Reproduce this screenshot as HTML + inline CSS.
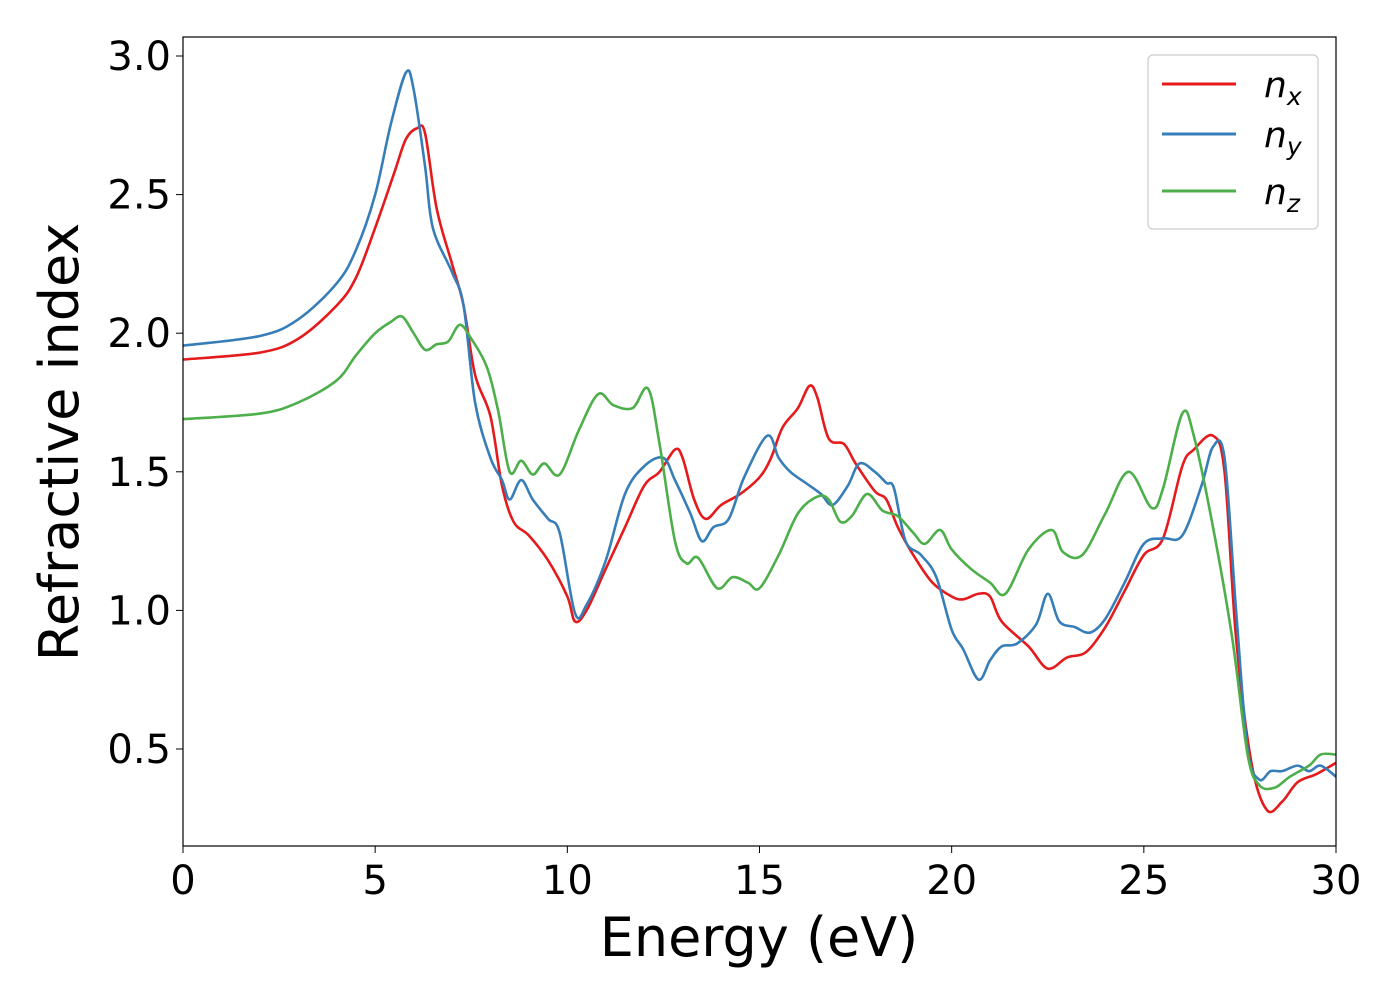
<!DOCTYPE html>
<html><head><meta charset="utf-8"><style>
body{margin:0;background:#fff}
svg{display:block;font-family:"DejaVu Sans","Liberation Sans",sans-serif}
</style></head><body>
<svg id="chart" width="1400" height="1000">
<rect x="0" y="0" width="1400" height="1000" fill="#fff"/>
<g id="series"></g>
<rect x="183" y="37" width="1153" height="809" fill="none" stroke="#000" stroke-width="1.2"/>
<g id="ticks"></g>
<text x="759" y="956" font-size="54" text-anchor="middle">Energy (eV)</text>
<text transform="translate(78,442) rotate(-90)" font-size="54" text-anchor="middle">Refractive index</text>
<g>
<rect x="1148" y="55" width="170" height="174" rx="5" fill="#fff" stroke="#ccc" stroke-width="1.2"/>
<g><line x1="1162" y1="84" x2="1236" y2="84" stroke="#e41a1c" stroke-width="3"/><text x="1264" y="97" font-size="36" font-style="italic">n<tspan font-size="25" dy="8">x</tspan></text></g>
<g><line x1="1162" y1="134" x2="1236" y2="134" stroke="#377eb8" stroke-width="3"/><text x="1264" y="147" font-size="36" font-style="italic">n<tspan font-size="25" dy="8">y</tspan></text></g>
<g><line x1="1162" y1="191" x2="1236" y2="191" stroke="#4daf4a" stroke-width="3"/><text x="1264" y="204" font-size="36" font-style="italic">n<tspan font-size="25" dy="8">z</tspan></text></g>
</g>
</svg>
<script>
const nxE=[0,2,3,4,4.5,5,5.5,5.8,6.1,6.3,6.6,7,7.3,7.6,8,8.3,8.6,9,9.5,10,10.2,10.5,11,11.5,12,12.4,12.8,13,13.3,13.6,14,14.5,15,15.3,15.6,16,16.3,16.5,16.8,17.2,17.5,18,18.3,18.6,19,19.5,20,20.3,20.7,21,21.3,22,22.5,23,23.5,24,24.5,25,25.5,26,26.3,26.8,27.1,27.4,27.8,28.2,28.6,29,29.5,30];
const nxV=[1.905,1.93,1.98,2.1,2.2,2.38,2.58,2.7,2.74,2.72,2.45,2.25,2.1,1.85,1.7,1.45,1.32,1.27,1.18,1.05,0.96,1.0,1.15,1.3,1.45,1.5,1.58,1.55,1.4,1.33,1.38,1.42,1.48,1.55,1.66,1.73,1.81,1.77,1.62,1.6,1.53,1.43,1.4,1.3,1.2,1.1,1.05,1.04,1.06,1.05,0.96,0.87,0.79,0.83,0.85,0.94,1.07,1.2,1.26,1.52,1.58,1.63,1.5,0.9,0.45,0.28,0.31,0.38,0.41,0.45];
const nyE=[0,2,3,4,4.5,5,5.4,5.8,6.0,6.3,6.5,7,7.3,7.6,8,8.3,8.5,8.8,9.1,9.5,9.8,10.2,10.5,11,11.5,12,12.5,12.8,13.2,13.5,13.8,14.2,14.6,15.2,15.5,15.8,16.2,16.6,16.9,17.3,17.6,18,18.3,18.5,18.8,19.2,19.6,20,20.3,20.7,21,21.3,21.7,22.2,22.5,22.8,23.2,23.6,24,24.5,25,25.5,26,26.5,26.8,27.1,27.4,27.7,28,28.3,28.6,29,29.3,29.6,30];
const nyV=[1.955,1.99,2.05,2.18,2.3,2.5,2.75,2.94,2.88,2.6,2.38,2.22,2.1,1.75,1.55,1.47,1.4,1.47,1.4,1.33,1.28,0.99,1.02,1.18,1.42,1.52,1.55,1.47,1.35,1.25,1.3,1.33,1.48,1.63,1.55,1.5,1.46,1.42,1.38,1.45,1.53,1.5,1.46,1.44,1.25,1.2,1.12,0.93,0.86,0.75,0.82,0.87,0.88,0.95,1.06,0.96,0.94,0.92,0.97,1.1,1.24,1.26,1.27,1.45,1.59,1.55,1.0,0.5,0.39,0.42,0.42,0.44,0.42,0.44,0.4];
const nzE=[0,2,3,4,4.5,5,5.4,5.7,6.0,6.3,6.6,6.9,7.2,7.5,7.9,8.2,8.5,8.8,9.1,9.4,9.8,10.3,10.8,11.2,11.7,12.1,12.4,12.8,13.1,13.4,13.9,14.3,14.7,15.0,15.5,16,16.5,16.8,17.1,17.4,17.8,18.2,18.6,19,19.3,19.7,20,20.5,21,21.4,22,22.6,22.9,23.4,24,24.6,25.2,25.5,26,26.3,26.8,27.3,27.7,28,28.4,28.8,29.3,29.6,30];
const nzV=[1.69,1.71,1.75,1.83,1.92,2.0,2.04,2.06,2.0,1.94,1.96,1.97,2.03,1.98,1.88,1.72,1.5,1.54,1.49,1.53,1.49,1.65,1.78,1.74,1.73,1.8,1.6,1.25,1.17,1.19,1.08,1.12,1.1,1.08,1.2,1.35,1.41,1.4,1.32,1.34,1.42,1.36,1.34,1.28,1.24,1.29,1.22,1.15,1.1,1.06,1.22,1.29,1.21,1.2,1.35,1.5,1.37,1.44,1.71,1.63,1.3,0.9,0.48,0.37,0.36,0.4,0.44,0.48,0.48];
const xTicks=[0,5,10,15,20,25,30];
const yTicks=[0.5,1.0,1.5,2.0,2.5,3.0];
const yLabels=["0.5","1.0","1.5","2.0","2.5","3.0"];

const X0=183,X1=1336,Y0=846,Y1=37,xMin=0,xMax=30,yMin=0.15,yMax=3.0+19/277.2;
const xs=v=>X0+(v-xMin)/(xMax-xMin)*(X1-X0);
const ys=v=>Y0-(v-yMin)/(yMax-yMin)*(Y0-Y1);
const NS='http://www.w3.org/2000/svg';
function smooth(E,V){
  const p=E.map((e,i)=>[xs(e),ys(V[i])]);
  let d='M'+p[0][0]+','+p[0][1];
  for(let i=0;i<p.length-1;i++){
    const a=p[Math.max(0,i-1)],b=p[i],c=p[i+1],e=p[Math.min(p.length-1,i+2)];
    const c1=[b[0]+(c[0]-a[0])/6,b[1]+(c[1]-a[1])/6],c2=[c[0]-(e[0]-b[0])/6,c[1]-(e[1]-b[1])/6];
    d+=`C${c1[0]},${c1[1]} ${c2[0]},${c2[1]} ${c[0]},${c[1]}`;
  }
  return d;
}
const g=document.getElementById('series');
[[nxE,nxV,'#e41a1c','series-nx'],[nyE,nyV,'#377eb8','series-ny'],[nzE,nzV,'#4daf4a','series-nz']].forEach(s=>{
  const p=document.createElementNS(NS,'path');
  p.setAttribute('d',smooth(s[0],s[1]));
  p.setAttribute('fill','none');p.setAttribute('stroke',s[2]);p.setAttribute('stroke-width','2.6');
  
  
  g.appendChild(p);
});
const t=document.getElementById('ticks');
xTicks.forEach(v=>{
  const l=document.createElementNS(NS,'line');
  l.setAttribute('x1',xs(v));l.setAttribute('x2',xs(v));l.setAttribute('y1',Y0);l.setAttribute('y2',Y0+7);l.setAttribute('stroke','#000');
  
  
  t.appendChild(l);
  const tx=document.createElementNS(NS,'text');
  tx.setAttribute('x',xs(v));tx.setAttribute('y',Y0+48);tx.setAttribute('font-size','40');tx.setAttribute('text-anchor','middle');
  tx.textContent=v;
  
  
  t.appendChild(tx);
});
yTicks.forEach((v,i)=>{
  const l=document.createElementNS(NS,'line');
  l.setAttribute('x1',X0-7);l.setAttribute('x2',X0);l.setAttribute('y1',ys(v));l.setAttribute('y2',ys(v));l.setAttribute('stroke','#000');
  
  
  t.appendChild(l);
  const tx=document.createElementNS(NS,'text');
  tx.setAttribute('x',X0-12);tx.setAttribute('y',ys(v)+14);tx.setAttribute('font-size','40');tx.setAttribute('text-anchor','end');
  tx.textContent=yLabels[i];
  
  
  t.appendChild(tx);
});
</script>
</body></html>
